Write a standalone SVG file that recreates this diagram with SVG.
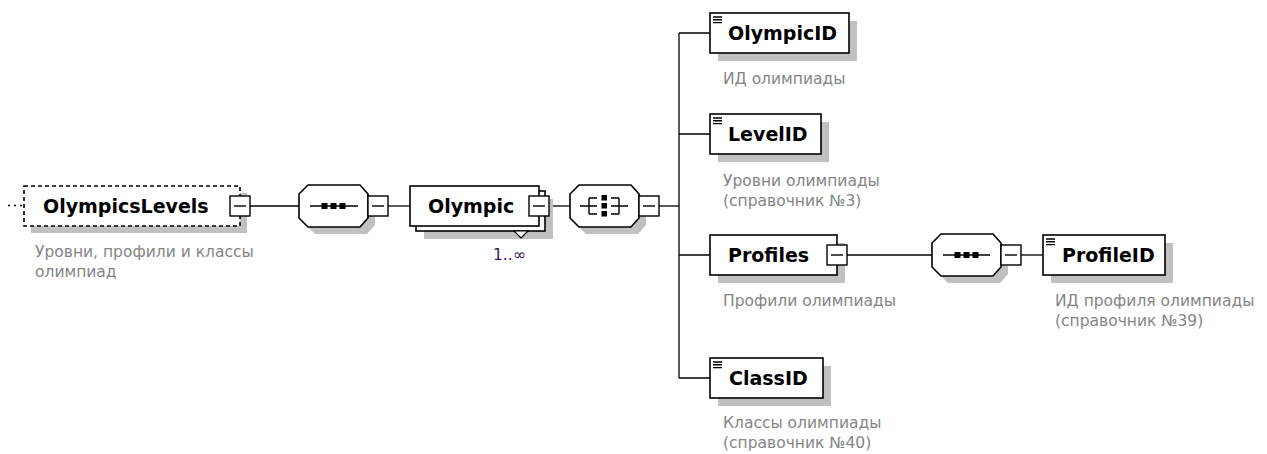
<svg xmlns="http://www.w3.org/2000/svg" width="1267" height="454" viewBox="0 0 1267 454">
<defs>
<style>
.box{fill:#fff;stroke:#000;stroke-width:1.6}
.shadow{fill:#c0c0c0;stroke:none}
.btn{fill:#fff;stroke:#000;stroke-width:1.4}
.ln{fill:none;stroke:#000;stroke-width:1.4}
.conn{fill:none;stroke:#000;stroke-width:1.3}
.lbl{font-family:"DejaVu Sans",Verdana,sans-serif;font-weight:bold;font-size:19px;fill:#000}
.desc{font-family:"DejaVu Sans",Tahoma,sans-serif;font-size:15.5px;fill:#858585}
.card{font-family:"DejaVu Sans",Tahoma,sans-serif;font-size:15.5px;fill:#3a2050}
.dot{fill:#000}
</style>
</defs>
<rect width="1267" height="454" fill="#fff"/>

<g id="connectors" class="conn">
<path d="M250 206 H299"/>
<path d="M388 206 H410"/>
<path d="M549 206 H570"/>
<path d="M659 206 H679"/>
<path d="M679 33 V378"/>
<path d="M679 33 H710 M679 134 H710 M679 255 H710 M679 378 H710"/>
<path d="M847 255 H932"/>
<path d="M1021 255 H1043"/>
</g>

<g id="node-OlympicsLevels">
<rect class="shadow" x="31" y="193" width="216" height="40"/>
<rect class="box" x="24" y="186" width="216" height="40" stroke-dasharray="4 3"/>
<path d="M8 205.5 H22" fill="none" stroke="#000" stroke-width="1.4" stroke-dasharray="2 4"/>
<text class="lbl" x="43" y="213">OlympicsLevels</text>
<rect class="btn" x="230" y="196" width="20" height="20"/>
<path class="ln" d="M234 206 H246"/>
<text class="desc" x="35" y="257">Уровни, профили и классы</text>
<text class="desc" x="35" y="277">олимпиад</text>
</g>

<g id="node-sequence1">
<polygon class="shadow" points="315,192 367,192 375,201 375,225 367,234 315,234 306,225 306,201"/>
<polygon class="box" points="308,185 360,185 368,194 368,218 360,227 308,227 299,218 299,194"/>
<path class="ln" d="M310 206 H358"/>
<rect class="dot" x="321.5" y="203" width="6" height="6"/>
<rect class="dot" x="330.5" y="203" width="6" height="6"/>
<rect class="dot" x="339.5" y="203" width="6" height="6"/>
<rect class="btn" x="368" y="196" width="20" height="20"/>
<path class="ln" d="M372 206 H384"/>
</g>

<g id="node-Olympic">
<rect class="shadow" x="424" y="199" width="129" height="40"/>
<rect class="box" x="416" y="191" width="129" height="40"/>
<rect class="box" x="410" y="186" width="129" height="40"/>
<polygon points="514,231 521,238 528,231" fill="#fff" stroke="#000" stroke-width="1.2"/>
<text class="lbl" x="428" y="213">Olympic</text>
<rect class="btn" x="529" y="196" width="20" height="20"/>
<path class="ln" d="M533 206 H545"/>
<text class="card" x="493" y="260">1..∞</text>
</g>

<g id="node-choice">
<polygon class="shadow" points="586,192 638,192 646,201 646,225 638,234 586,234 577,225 577,201"/>
<polygon class="box" points="579,185 631,185 639,194 639,218 631,227 579,227 570,218 570,194"/>
<path class="ln" d="M580 206 H597 M589 198 V214 M589 198 H597 M589 214 H597"/>
<path class="ln" d="M611 206 H628 M619 198 V214 M611 198 H619 M611 214 H619"/>
<rect class="dot" x="601.5" y="195" width="5.5" height="5.5"/>
<rect class="dot" x="601.5" y="203" width="5.5" height="5.5"/>
<rect class="dot" x="601.5" y="211" width="5.5" height="5.5"/>
<rect class="btn" x="639" y="196" width="20" height="20"/>
<path class="ln" d="M643 206 H655"/>
</g>

<g id="node-OlympicID">
<rect class="shadow" x="718" y="21" width="139" height="40"/>
<rect class="box" x="710" y="13" width="139" height="40"/>
<path class="ln" d="M713 17 H722 M713 19.8 H722 M713 22.6 H722" stroke-width="1.2"/>
<text class="lbl" x="728" y="40">OlympicID</text>
<text class="desc" x="723" y="84">ИД олимпиады</text>
</g>

<g id="node-LevelID">
<rect class="shadow" x="718" y="122" width="111" height="40"/>
<rect class="box" x="710" y="114" width="111" height="40"/>
<path class="ln" d="M713 118 H722 M713 120.8 H722 M713 123.6 H722" stroke-width="1.2"/>
<text class="lbl" x="728" y="141">LevelID</text>
<text class="desc" x="723" y="186">Уровни олимпиады</text>
<text class="desc" x="723" y="206">(справочник №3)</text>
</g>

<g id="node-Profiles">
<rect class="shadow" x="718" y="243" width="127" height="40"/>
<rect class="box" x="710" y="235" width="127" height="40"/>
<text class="lbl" x="728" y="262">Profiles</text>
<rect class="btn" x="827" y="245" width="20" height="20"/>
<path class="ln" d="M831 255 H843"/>
<text class="desc" x="723" y="306">Профили олимпиады</text>
</g>

<g id="node-sequence2">
<polygon class="shadow" points="948,241 1000,241 1008,250 1008,274 1000,283 948,283 939,274 939,250"/>
<polygon class="box" points="941,234 993,234 1001,243 1001,267 993,276 941,276 932,267 932,243"/>
<path class="ln" d="M943 255 H990"/>
<rect class="dot" x="954.5" y="252" width="6" height="6"/>
<rect class="dot" x="963.5" y="252" width="6" height="6"/>
<rect class="dot" x="972.5" y="252" width="6" height="6"/>
<rect class="btn" x="1001" y="245" width="20" height="20"/>
<path class="ln" d="M1005 255 H1017"/>
</g>

<g id="node-ProfileID">
<rect class="shadow" x="1051" y="243" width="122" height="40"/>
<rect class="box" x="1043" y="235" width="122" height="40"/>
<path class="ln" d="M1046 239 H1055 M1046 241.8 H1055 M1046 244.6 H1055" stroke-width="1.2"/>
<text class="lbl" x="1062" y="262">ProfileID</text>
<text class="desc" x="1055" y="306">ИД профиля олимпиады</text>
<text class="desc" x="1055" y="326">(справочник №39)</text>
</g>

<g id="node-ClassID">
<rect class="shadow" x="718" y="366" width="113" height="40"/>
<rect class="box" x="710" y="358" width="113" height="40"/>
<path class="ln" d="M713 362 H722 M713 364.8 H722 M713 367.6 H722" stroke-width="1.2"/>
<text class="lbl" x="729" y="385">ClassID</text>
<text class="desc" x="723" y="428">Классы олимпиады</text>
<text class="desc" x="723" y="448">(справочник №40)</text>
</g>
</svg>
